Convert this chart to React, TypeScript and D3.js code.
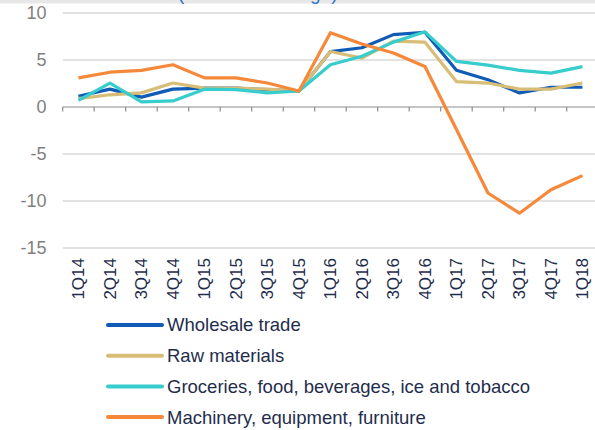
import React from "react";
import * as d3 from "d3";

const categories = ["1Q14","2Q14","3Q14","4Q14","1Q15","2Q15","3Q15","4Q15","1Q16","2Q16","3Q16","4Q16","1Q17","2Q17","3Q17","4Q17","1Q18"];
const wholesale = [1.15,1.9,1.05,1.9,2.0,2.0,1.85,1.7,5.9,6.3,7.7,7.95,3.9,2.9,1.5,2.1,2.1];
const rawMaterials = [0.9,1.3,1.5,2.55,2.0,2.0,1.9,1.7,5.9,5.2,7.0,6.9,2.7,2.55,1.9,1.9,2.55];
const groceries = [0.7,2.55,0.55,0.65,1.9,1.85,1.5,1.7,4.5,5.4,6.9,8.0,4.85,4.45,3.9,3.6,4.3];
const machinery = [3.1,3.7,3.9,4.5,3.1,3.1,2.55,1.7,7.9,6.7,5.75,4.3,-2.4,-9.15,-11.3,-8.8,-7.3];
const yTicks = [10,5,0,-5,-10,-15];
const seriesNames = ["Wholesale trade","Raw materials","Groceries, food, beverages, ice and tobacco","Machinery, equipment, furniture"];
const seriesColors = ["#0f5bb5","#d8bd76","#36cdcc","#f6883a"];
const seriesData = [wholesale, rawMaterials, groceries, machinery];
const subtitle = "(annual % change)";

export default function App() {
  const W = 595, H = 430;
  const x = d3.scaleBand<string>().domain(categories).range([62.7, 62.7 + 17 * 31.5]);
  const y = d3.scaleLinear().domain([-15, 10]).range([248, 13]);
  const line = d3.line<number>()
    .x((_, i) => (x(categories[i]) as number) + x.bandwidth() / 2)
    .y((d) => y(d));
  const font = "'Liberation Sans', Arial, sans-serif";
  const x0 = x.range()[0];
  return (
    <svg width={W} height={H} style={{ position: "absolute", left: 0, top: 0 }} fontFamily={font}>
      <rect x={0} y={0} width={W} height={H} fill="#ffffff" />
      <rect x={0} y={0} width={W} height={3.5} fill="#e7e7e7" />
      <text x={178} y={-0.5} fontSize={19} fill="#2e78c8">{subtitle}</text>
      {yTicks.map((t) => (
        <g key={t}>
          {t !== 0 && <line x1={x0} x2={W} y1={y(t)} y2={y(t)} stroke="#d9d9d9" strokeWidth={1.5} />}
          <text x={46.5} y={y(t)} dy="0.35em" textAnchor="end" fontSize={18} fill="#7f7f7f">{t}</text>
        </g>
      ))}
      <line x1={x0} x2={W} y1={y(0)} y2={y(0)} stroke="#8c8c8c" strokeWidth={1.2} />
      {categories.map((c, i) => (
        <line key={"t" + c} x1={x0 + i * x.step()} x2={x0 + i * x.step()} y1={y(0)} y2={y(0) + 4.5} stroke="#8c8c8c" strokeWidth={1.2} />
      ))}
      {categories.map((c) => {
        const cx = (x(c) as number) + x.bandwidth() / 2;
        return (
          <text key={c} transform={`translate(${cx},258) rotate(-90)`} dy="0.35em" textAnchor="end" fontSize={17} fill="#1f2d4d">{c}</text>
        );
      })}
      {seriesData.map((s, i) => (
        <path key={i} d={line(s) || ""} fill="none" stroke={seriesColors[i]} strokeWidth={3.2} strokeLinejoin="round" />
      ))}
      {seriesNames.map((n, i) => {
        const ly = 325 + i * 30.7;
        return (
          <g key={n}>
            <line x1={108} x2={162} y1={ly} y2={ly} stroke={seriesColors[i]} strokeWidth={4} strokeLinecap="round" />
            <text x={167} y={ly} dy="0.35em" fontSize={18.5} fill="#1f2d4d">{n}</text>
          </g>
        );
      })}
    </svg>
  );
}
